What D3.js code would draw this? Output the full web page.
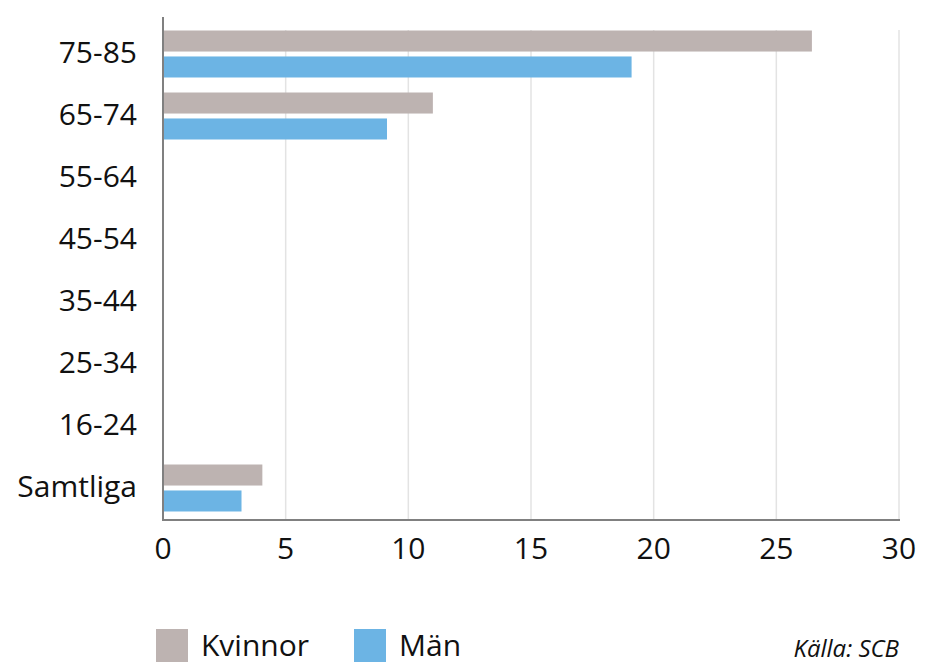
<!DOCTYPE html>
<html>
<head>
<meta charset="utf-8">
<script src="https://cdn.jsdelivr.net/npm/d3@7"></script>
<style>
  html, body { margin: 0; padding: 0; background: #fff; }
  svg { display: block; font-family: "Open Sans", sans-serif; }
</style>
</head>
<body>
<svg id="chart" width="930" height="672"></svg>
<script>
const categories = ["75-85", "65-74", "55-64", "45-54", "35-44", "25-34", "16-24", "Samtliga"];
const seriesNames = ["Kvinnor", "Män"];
const kvinnor = [26.45, 11.0, null, null, null, null, null, 4.05];
const man = [19.1, 9.13, null, null, null, null, null, 3.2];
const xTicks = [0, 5, 10, 15, 20, 25, 30];
const colors = ["#bdb3b1", "#6cb4e4"];
const sourceText = "Källa: SCB";

const svg = d3.select("#chart");
const mLeft = 163, mRight = 899, mTop = 23, mBottom = 519;

const x = d3.scaleLinear().domain([0, 30]).range([mLeft, mRight]);
const y0 = d3.scaleBand().domain(categories).range([mTop, mBottom])
  .paddingInner(0.242).paddingOuter(0.121);
const y1 = d3.scaleBand().domain(seriesNames).range([0, y0.bandwidth()]).paddingInner(0.19);

// gridlines
svg.append("g").selectAll("line").data(xTicks.filter(d => d > 0)).join("line")
  .attr("x1", d => x(d)).attr("x2", d => x(d))
  .attr("y1", 30).attr("y2", 520)
  .attr("stroke", "#e3e3e3").attr("stroke-width", 1.5);

// bars
const data = categories.map((c, i) => ({ cat: c, vals: [kvinnor[i], man[i]] }));
const groups = svg.append("g").selectAll("g").data(data).join("g")
  .attr("transform", d => `translate(0,${y0(d.cat)})`);
groups.selectAll("rect")
  .data(d => d.vals.map((v, j) => ({ key: seriesNames[j], v, j })).filter(e => e.v != null))
  .join("rect")
  .attr("x", x(0))
  .attr("y", e => y1(e.key))
  .attr("width", e => x(e.v) - x(0))
  .attr("height", y1.bandwidth())
  .attr("fill", e => colors[e.j]);

// y axis line
svg.append("line").attr("x1", mLeft).attr("x2", mLeft).attr("y1", 17).attr("y2", 521)
  .attr("stroke", "#808080").attr("stroke-width", 2);
// x axis line
svg.append("line").attr("x1", mLeft - 1).attr("x2", 900).attr("y1", 520).attr("y2", 520)
  .attr("stroke", "#808080").attr("stroke-width", 2);

// x tick labels
svg.append("g").selectAll("text").data(xTicks).join("text")
  .attr("x", d => x(d)).attr("y", 559)
  .attr("text-anchor", "middle")
  .attr("font-size", 30).attr("fill", "#111")
  .text(d => d);

// y labels
svg.append("g").selectAll("text").data(categories).join("text")
  .attr("x", 137).attr("y", d => y0(d) + y0.bandwidth() / 2)
  .attr("dy", "0.3em")
  .attr("text-anchor", "end")
  .attr("font-size", 30).attr("fill", "#111")
  .text(d => d);

// legend
const legendX = [156, 354];
const lg = svg.append("g").selectAll("g").data(seriesNames).join("g")
  .attr("transform", (d, i) => `translate(${legendX[i]},629)`);
lg.append("rect").attr("width", 32).attr("height", 33).attr("fill", (d, i) => colors[i]);
lg.append("text").attr("x", 45).attr("y", 27)
  .attr("font-size", 30).attr("fill", "#111").text(d => d);

svg.append("text").attr("x", 899).attr("y", 657)
  .attr("text-anchor", "end").attr("font-size", 24).attr("font-style", "italic")
  .attr("fill", "#111").text(sourceText);
</script>
</body>
</html>
